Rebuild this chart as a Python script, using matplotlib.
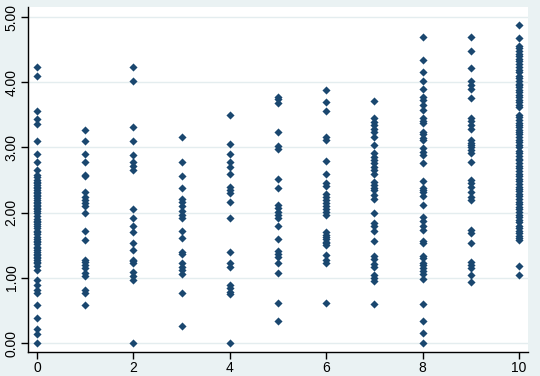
import matplotlib
matplotlib.use("Agg")
import matplotlib.pyplot as plt
from matplotlib.ticker import FormatStrFormatter

y0 = [4.23, 4.10, 3.56, 3.44, 3.36, 3.10, 2.90, 2.78, 2.66, 2.58,
      2.55, 2.50, 2.47, 2.45, 2.42, 2.40, 2.37, 2.35, 2.32, 2.30, 2.27, 2.25,
      2.22, 2.20, 2.17, 2.15, 2.12, 2.10, 2.07, 2.05, 2.02, 2.00, 1.95, 1.90,
      1.87, 1.85, 1.82, 1.80, 1.77, 1.72, 1.70, 1.67, 1.62, 1.60, 1.57, 1.55,
      1.52, 1.47, 1.45, 1.42, 1.40, 1.37, 1.35, 1.32, 1.30, 1.27, 1.25, 1.22,
      1.18, 1.12, 0.97, 0.89, 0.81, 0.76, 0.59, 0.39, 0.21, 0.14, 0.00]
y1 = [3.26, 3.10, 2.90, 2.78, 2.58, 2.56, 2.32, 2.24, 2.19, 2.14, 2.10, 2.00,
      1.72, 1.58, 1.27, 1.24, 1.20, 1.15, 1.08, 1.03, 0.81, 0.77, 0.59]
y2 = [4.23, 4.02, 3.32, 3.10, 2.88, 2.78, 2.71, 2.65, 2.06, 1.91, 1.80, 1.71,
      1.53, 1.42, 1.28, 1.26, 1.22, 1.09, 1.03, 0.96, 0.00]
y3 = [3.16, 2.78, 2.56, 2.38, 2.21, 2.16, 2.10, 2.02, 1.97, 1.92, 1.72, 1.61,
      1.39, 1.37, 1.22, 1.17, 1.12, 1.06, 0.76, 0.26]
y4 = [3.49, 3.05, 2.90, 2.78, 2.70, 2.59, 2.39, 2.34, 2.30, 2.17, 1.92, 1.39,
      1.22, 1.17, 0.89, 0.84, 0.79, 0.75, 0.00]
y5 = [3.78, 3.74, 3.68, 3.24, 3.02, 2.98, 2.52, 2.37, 2.12, 2.07, 2.01, 1.96,
      1.91, 1.79, 1.59, 1.41, 1.37, 1.32, 1.23, 1.07, 0.61, 0.34]
y6 = [3.88, 3.69, 3.56, 3.16, 3.11, 2.79, 2.59, 2.46, 2.41, 2.28, 2.24, 2.19,
      2.14, 2.10, 2.05, 2.01, 1.97, 1.71, 1.66, 1.63, 1.59, 1.55, 1.53, 1.50,
      1.35, 1.28, 1.22, 0.61]
y7 = [3.71, 3.45, 3.39, 3.34, 3.29, 3.23, 3.16, 3.04, 2.91, 2.86, 2.81, 2.76,
      2.70, 2.65, 2.59, 2.47, 2.43, 2.38, 2.34, 2.27, 2.21, 2.00, 1.84, 1.80,
      1.72, 1.56, 1.34, 1.29, 1.21, 1.17, 1.05, 1.00, 0.95, 0.60]
y8 = [4.69, 4.34, 4.15, 4.02, 3.89, 3.77, 3.72, 3.65, 3.57, 3.45, 3.41, 3.37,
      3.24, 3.20, 3.15, 3.11, 2.99, 2.93, 2.88, 2.76, 2.48, 2.38, 2.35, 2.31,
      2.26, 2.12, 1.93, 1.87, 1.80, 1.73, 1.56, 1.53, 1.34, 1.30, 1.22, 1.19,
      1.15, 1.10, 1.06, 0.98, 0.60, 0.34, 0.15, 0.00]
y9 = [4.69, 4.48, 4.22, 4.02, 3.96, 3.90, 3.76, 3.45, 3.40, 3.35, 3.29, 3.11,
      3.07, 3.04, 3.00, 2.96, 2.91, 2.78, 2.50, 2.46, 2.40, 2.32, 2.24, 2.20,
      1.73, 1.68, 1.54, 1.24, 1.20, 1.15, 1.04, 0.94]
y10 = [4.88, 4.68, 4.56, 4.52, 4.48, 4.44, 4.40, 4.36, 4.32, 4.28, 4.24, 4.19,
       4.15, 4.10, 4.06, 4.02, 3.98, 3.95, 3.92, 3.88, 3.85, 3.81, 3.77, 3.73,
       3.69, 3.65, 3.62, 3.50, 3.46, 3.42, 3.38, 3.35, 3.31, 3.27, 3.24, 3.20,
       3.16, 3.12, 3.08, 3.04, 3.00, 2.95, 2.91, 2.87, 2.83, 2.80, 2.76, 2.72,
       2.68, 2.64, 2.60, 2.56, 2.52, 2.48, 2.44, 2.40, 2.36, 2.33, 2.29, 2.25,
       2.21, 2.17, 2.13, 2.09, 2.05, 2.01, 1.97, 1.93, 1.89, 1.85, 1.80, 1.76,
       1.72, 1.68, 1.64, 1.61, 1.58, 1.18, 1.04]

x_categories = [0, 1, 2, 3, 4, 5, 6, 7, 8, 9, 10]
y_series = [y0, y1, y2, y3, y4, y5, y6, y7, y8, y9, y10]
x_ticks = [0, 2, 4, 6, 8, 10]
y_ticks = [0, 1, 2, 3, 4, 5]

xs, ys = [], []
for xc, vals in zip(x_categories, y_series):
    xs.extend([xc] * len(vals))
    ys.extend(vals)

plt.rcParams['font.family'] = ['Liberation Sans', 'DejaVu Sans']

bg = '#EAF2F3'
fig = plt.figure(figsize=(5.40, 3.76), dpi=100, facecolor=bg)
ax = fig.add_axes([28.3 / 540, 1 - 351.7 / 376, (527.7 - 28.3) / 540, (351.7 - 7.3) / 376])
ax.set_facecolor('white')

ax.scatter(xs, ys, marker='D', s=17, color='#1a476f', linewidths=0, zorder=3)

ax.set_xlim(-0.18, 10.18)
ax.set_ylim(-0.133, 5.149)
ax.set_xticks(x_ticks)
ax.set_yticks(y_ticks)
ax.yaxis.set_major_formatter(FormatStrFormatter('%.2f'))
for lbl in ax.get_yticklabels():
    lbl.set_rotation(90)
    lbl.set_va('center')

ax.grid(axis='y', color='#E4EDEF', linewidth=1.0, zorder=0)
ax.grid(axis='x', visible=False)
for side in ['top', 'right']:
    ax.spines[side].set_visible(False)
for side in ['left', 'bottom']:
    ax.spines[side].set_color('black')
    ax.spines[side].set_linewidth(1.0)
ax.tick_params(axis='both', direction='out', length=5, width=1, color='black',
               labelsize=10, labelcolor='black', pad=2)

fig.savefig('out.png', dpi=100, facecolor=bg)
